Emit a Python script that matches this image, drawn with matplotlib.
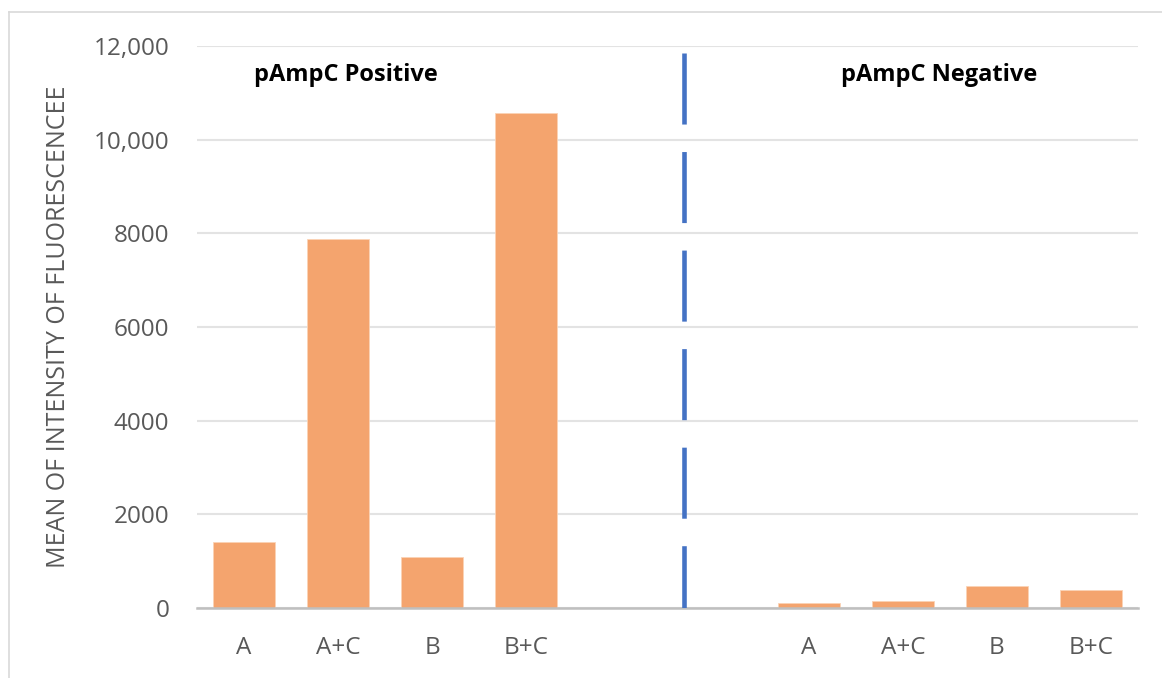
import matplotlib.pyplot as plt
from matplotlib.lines import Line2D
from matplotlib.ticker import FixedLocator

# mean fluorescence per treatment, two groups separated by two empty slots
categories = ["A", "A+C", "B", "B+C", "", "", "A", "A+C", "B", "B+C"]
values = [1420, 7890, 1100, 10570, 0, 0, 110, 145, 475, 390]
ytick_vals = [0, 2000, 4000, 6000, 8000, 10000, 12000]
ytick_labels = ["0", "2000", "4000", "6000", "8000", "10,000", "12,000"]
group_labels = ["pAmpC Positive", "pAmpC Negative"]
group_x = [1.08, 7.39]
divider_x = 4.675
divider_top = 11850

plt.rcParams['font.family'] = ['Open Sans', 'DejaVu Sans']

fig = plt.figure(figsize=(11.62, 6.78), dpi=100)
ax = fig.add_axes([0.1695, 0.103, 0.81, 0.829])

x = list(range(len(categories)))
ax.bar(x, values, width=0.66, color="#f4a46e", edgecolor="#fbd3b5", linewidth=0.6, zorder=3)

ax.set_xlim(-0.5, len(categories) - 0.5)
ax.set_ylim(0, 12000)
ax.set_xticks(x)
ax.set_xticklabels(categories)
ax.yaxis.set_major_locator(FixedLocator(ytick_vals))
ax.set_yticklabels(ytick_labels)
ax.tick_params(axis="both", length=0, labelsize=17.5, colors="#595959")
ax.tick_params(axis="x", pad=20)
ax.tick_params(axis="y", pad=20)

ax.grid(axis="y", color="#e3e3e3", linewidth=1.5, zorder=0)
for s in ["top", "right", "left"]:
    ax.spines[s].set_visible(False)
ax.spines["bottom"].set_color("#bfbfbf")
ax.spines["bottom"].set_linewidth(1.8)
ax.spines["bottom"].set_zorder(4)

ax.set_ylabel("MEAN OF INTENSITY OF FLUORESCENCEE", fontsize=18, color="#595959", labelpad=16)

# group titles
for gx, label in zip(group_x, group_labels):
    ax.text(gx, 11380, label, fontsize=17, fontweight="bold", ha="center", va="center", color="black")

# dashed divider between the two groups
ax.plot([divider_x, divider_x], [divider_top, 0], color="#4472c4", linewidth=3.3,
        dashes=(15.5, 6.0), solid_capstyle="butt", zorder=5)

# outer chart frame
fig.add_artist(Line2D([0.0075, 0.0075], [0, 0.982], color="#d9d9d9", linewidth=1.2))
fig.add_artist(Line2D([0.0075, 1.0], [0.982, 0.982], color="#d9d9d9", linewidth=1.2))

fig.savefig("out.png", dpi=100)
